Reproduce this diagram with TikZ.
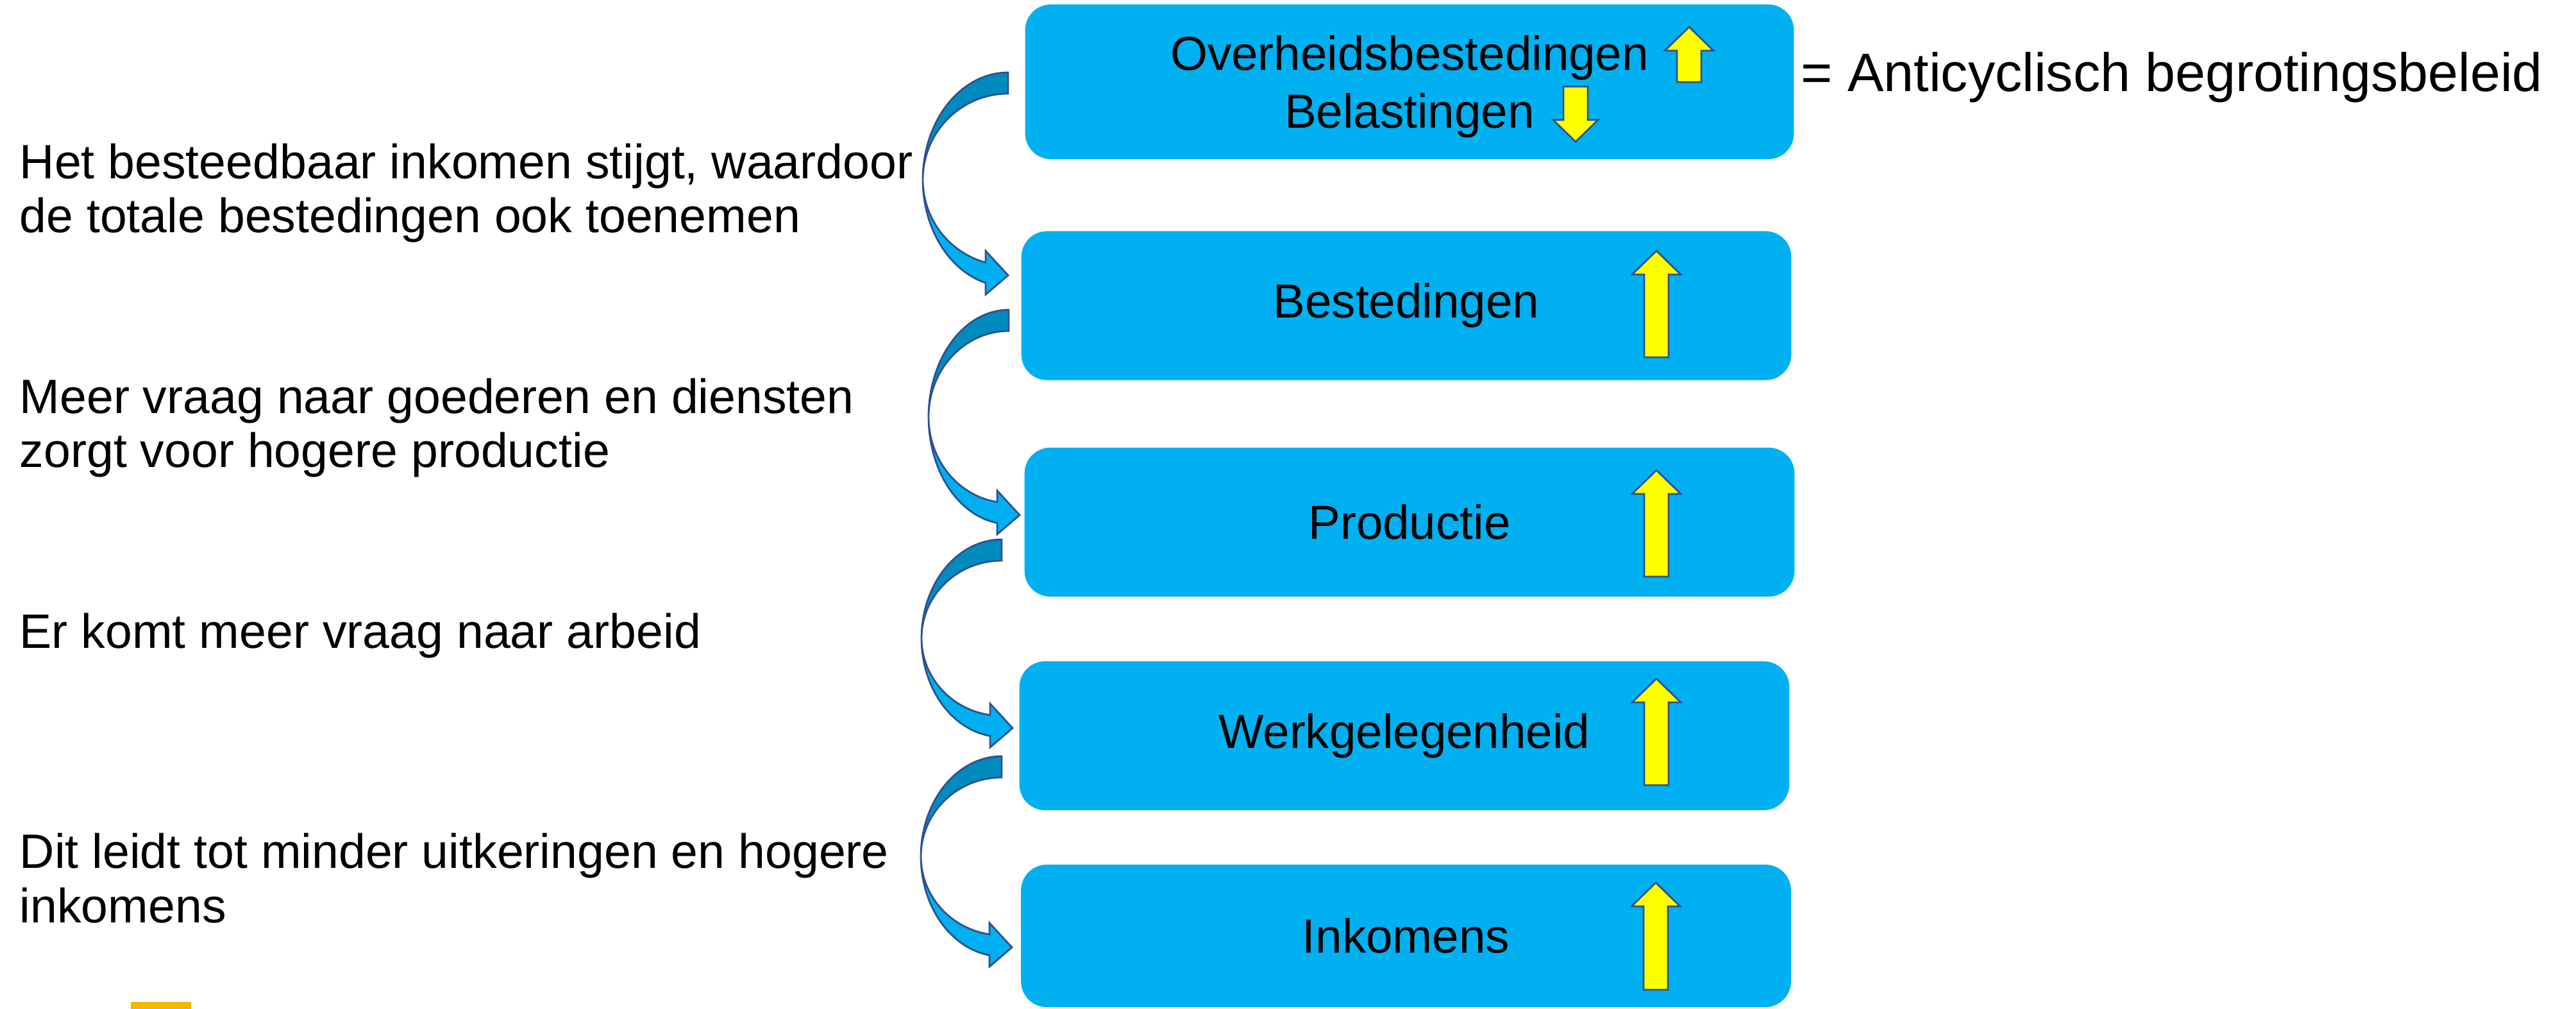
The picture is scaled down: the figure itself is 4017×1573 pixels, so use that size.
\documentclass[tikz,border=0pt]{standalone}
\usepackage{fontspec}
\setmainfont{Liberation Sans}
\usepackage{xcolor}
\usepackage{tikz}
\usetikzlibrary{calc}

\definecolor{vakblauw}{RGB}{0,176,240}
\definecolor{donkerblauw}{RGB}{0,139,191}
\definecolor{randblauw}{RGB}{47,82,143}
\definecolor{geel}{RGB}{255,255,0}
\definecolor{oranje}{RGB}{244,182,0}

% gele pijl omhoog: x, top, onderkant
\newcommand{\pijlop}[3]{%
  \filldraw[geelpijl] (#1,#2) -- (#1+38,#2+37) -- (#1+19,#2+37) -- (#1+19,#3)
    -- (#1-19,#3) -- (#1-19,#2+37) -- (#1-38,#2+37) -- cycle;}
% gele pijl omlaag: x, bovenkant, punt
\newcommand{\pijlneer}[3]{%
  \filldraw[geelpijl] (#1,#3) -- (#1+35,#3-34) -- (#1+19,#3-34) -- (#1+19,#2)
    -- (#1-19,#2) -- (#1-19,#3-34) -- (#1-35,#3-34) -- cycle;}
% gebogen pijl: x begin, y boven, y midden, straal x, x eind
\newcommand{\boogpijl}[5]{%
  \pgfmathsetmacro{\ryo}{#3-#2}
  \pgfmathsetmacro{\ryi}{\ryo-33}
  \pgfmathsetmacro{\te}{acos((#5-#1)/#4)}
  \pgfmathsetmacro{\yo}{#3+\ryo*sin(\te)}
  \pgfmathsetmacro{\yi}{#3+\ryi*sin(\te)}
  \pgfmathsetmacro{\yc}{(\yo+\yi)/2}
  % achterkant (donker)
  \filldraw[boogdonker] plot[domain=0:1] ({#1+#4*cos(270-90*\x)},{#3+\ryo*sin(270-90*\x)})
    -- plot[domain=0:1] ({#1+#4*cos(180+90*\x)},{#3+\ryi*sin(180+90*\x)}) -- cycle;
  % voorkant met punt (licht)
  \filldraw[booglicht] plot[domain=0:1] ({#1+#4*cos(180-(180-\te)*\x)},{#3+\ryo*sin(180-(180-\te)*\x)})
    -- (#5,\yc+34) -- (#5+35,\yc+4) -- (#5,\yc-34)
    -- plot[domain=0:1] ({#1+#4*cos(\te+(180-\te)*\x)},{#3+\ryi*sin(\te+(180-\te)*\x)}) -- cycle;}

\begin{document}
\begin{tikzpicture}[x=0.01cm, y=-0.01cm,
    vak/.style={fill=vakblauw, rounded corners=0.4cm, minimum width=12cm,
      minimum height=2.32cm, inner sep=0pt, align=center,
      font=\fontsize{21.2}{25.6}\selectfont},
    uitleg/.style={anchor=west, align=left, inner sep=0pt,
      font=\fontsize{21.4}{24}\selectfont},
    geelpijl/.style={fill=geel, draw=randblauw, line width=0.8pt},
    boogdonker/.style={fill=donkerblauw, draw=randblauw, line width=0.8pt},
    booglicht/.style={fill=vakblauw, draw=randblauw, line width=0.8pt},
    samples=40]
  \useasboundingbox (0,0) rectangle (4017,1573);

  % De keten van vakken
  \node[vak, minimum width=11.98cm, minimum height=2.41cm] (ovh) at (2198,127.5)
    {\rule{0pt}{20pt}Overheidsbestedingen\\Belastingen};
  \node[vak] (best) at (2193,476.5) {Bestedingen};
  \node[vak] (prod) at (2198,814) {Productie};
  \node[vak] (werk) at (2190,1147) {Werkgelegenheid};
  \node[vak, minimum height=2.22cm] (ink) at (2192.5,1459) {Inkomens};

  % Gele pijlen in de vakken
  \pijlop{2634}{42}{128}
  \pijlneer{2457}{135}{221}
  \pijlop{2583}{391}{557}
  \pijlop{2583}{733}{899}
  \pijlop{2583}{1058}{1224}
  \pijlop{2582}{1376}{1543}

  % Gebogen pijlen tussen de vakken
  \boogpijl{1572}{113}{280}{133}{1537} % ovh -> best
  \boogpijl{1573}{483}{650}{125}{1555} % best -> prod
  \boogpijl{1562}{841}{995}{125}{1544} % prod -> werk
  \boogpijl{1562}{1179}{1335}{126}{1543} % werk -> ink

  % Uitleg links
  \node[uitleg] (uitleg1) at (30,301)
    {Het besteedbaar inkomen stijgt, waardoor\\de totale bestedingen ook toenemen};
  \node[uitleg] (uitleg2) at (30,667)
    {Meer vraag naar goederen en diensten\\zorgt voor hogere productie};
  \node[uitleg] (uitleg3) at (30,991) {Er komt meer vraag naar arbeid};
  \node[uitleg] (uitleg4) at (30,1369)
    {Dit leidt tot minder uitkeringen en hogere\\inkomens};

  % Conclusie rechts
  \node[anchor=west, inner sep=0pt, font=\fontsize{24}{28}\selectfont] (anti)
    at (2808,121) {= Anticyclisch begrotingsbeleid};

  % oranje balkje onderaan
  \fill[oranje] (204,1562) rectangle (298,1573);
\end{tikzpicture}
\end{document}
